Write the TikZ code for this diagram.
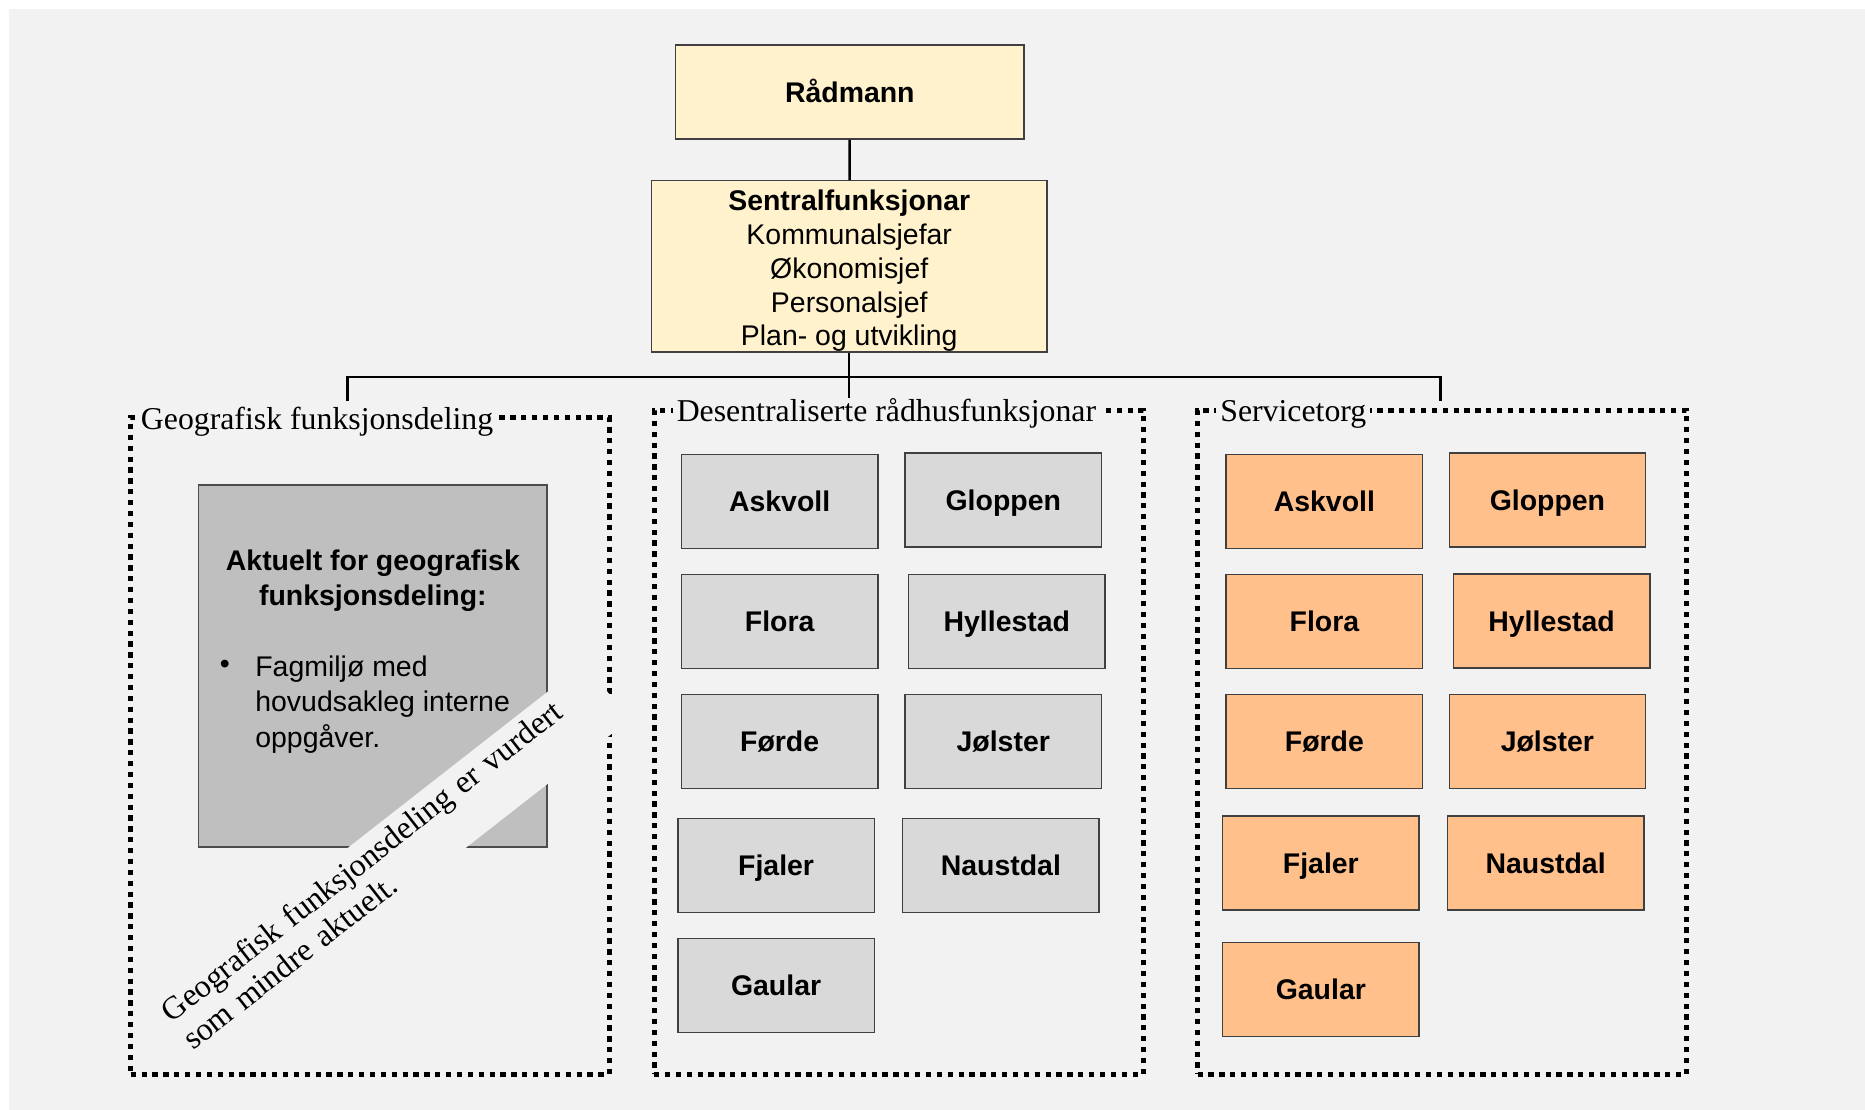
\documentclass[tikz,border=0pt]{standalone}
\usepackage{fontspec}
\setmainfont{Liberation Sans}
\newfontfamily\labelfont{Liberation Serif}
\definecolor{bg}{HTML}{F2F2F2}
\definecolor{bossyellow}{HTML}{FFF2CC}
\definecolor{desgray}{HTML}{D9D9D9}
\definecolor{geogray}{HTML}{BFBFBF}
\definecolor{servorange}{HTML}{FFC08C}
\begin{document}
\begin{tikzpicture}[x=0.01cm,y=-0.01cm,
  link/.style={line width=0.6pt},
  boss/.style={draw=black!75, line width=0.35pt, fill=bossyellow, font=\fontsize{6.8}{8.1}\selectfont},
  town/.style={draw=black!75, line width=0.35pt, minimum width=1.65cm, minimum height=0.79cm, inner sep=0pt, text height=4.9pt, text depth=0pt, font=\bfseries\fontsize{6.8}{8}\selectfont},
  desbox/.style={town, fill=desgray},
  servbox/.style={town, fill=servorange},
  area/.style={draw, line width=1.2pt, dash pattern=on 1.25pt off 1.35pt, minimum width=4.11cm, minimum height=5.58cm},
  arealabel/.style={fill=bg, inner xsep=1pt, inner ysep=0pt, anchor=base west, font=\labelfont\fontsize{7.6}{9}\selectfont},
  band/.style={rotate=38, anchor=east, fill=bg, text width=4.55cm, minimum height=0.61cm, inner xsep=0.05cm, inner ysep=0pt, align=left, font=\labelfont\fontsize{7.7}{8.4}\selectfont}]
\useasboundingbox (0,0) rectangle (1568,933);
\fill[bg] (7.5,7.5) rectangle (1568,933);

\node[boss, font=\bfseries\fontsize{6.8}{8.1}\selectfont, minimum width=2.93cm, minimum height=0.79cm, text height=4.9pt, text depth=0pt] (radmann) at (714.5,77.5) {Rådmann};
\node[boss, minimum width=3.32cm, minimum height=1.44cm, inner sep=0pt, align=center] (sentral) at (714,224)
  {\rule{0pt}{7pt}\textbf{Sentralfunksjonar}\\Kommunalsjefar\\Økonomisjef\\Personalsjef\\Plan- og utvikling};

\coordinate (bar) at (714,317);
\coordinate (geotop) at (292,337);
\coordinate (destop) at (714,336);
\coordinate (servtop) at (1211,337);
\draw[link] (radmann) -- (sentral);
\draw[link] (sentral) -- (destop);
\draw[link] (geotop) |- (bar) -| (servtop);

\node[area, minimum width=4.02cm, minimum height=5.52cm] (geo) at (311,627) {};
\node[area] (des) at (755.5,624) {};
\node[area] (serv) at (1212.5,624) {};
\node[arealabel] (geolabel) at ([xshift=0.065cm,yshift=-0.12cm]geo.north west) {Geografisk funksjonsdeling};
\node[arealabel] (deslabel) at ([xshift=0.17cm,yshift=-0.115cm]des.north west) {Desentraliserte rådhusfunksjonar};
\node[arealabel] (servlabel) at ([xshift=0.17cm,yshift=-0.115cm]serv.north west) {Servicetorg};

\node[draw=black!70, line width=0.35pt, fill=geogray, minimum width=2.93cm, minimum height=3.04cm] (geonote) at (313.5,560) {};
\node[align=center, inner sep=0pt, font=\bfseries\fontsize{6.8}{8.3}\selectfont] (geotitle) at (313.5,488) {Aktuelt for geografisk\\funksjonsdeling:};
\node[inner sep=0pt, font=\fontsize{6.8}{8.4}\selectfont] (geobullet) at (189,561) {•};
\node[anchor=north west, align=left, inner sep=0pt, font=\fontsize{6.8}{8.4}\selectfont] (geolist) at (214,551) {Fagmiljø med\\hovudsakleg interne\\oppgåver.};

\node[desbox] (desaskvoll) at (655.5,421.5) {Askvoll};
\node[desbox] (desgloppen) at (843.5,420.5) {Gloppen};
\node[desbox] (desflora) at (655.5,522.5) {Flora};
\node[desbox] (deshyllestad) at (846.5,522.5) {Hyllestad};
\node[desbox] (desforde) at (655.5,623.5) {Førde};
\node[desbox] (desjolster) at (843.5,623.5) {Jølster};
\node[desbox] (desfjaler) at (652.5,727.5) {Fjaler};
\node[desbox] (desnaustdal) at (841.5,727.5) {Naustdal};
\node[desbox] (desgaular) at (652.5,828.5) {Gaular};

\node[servbox] (servaskvoll) at (1113.5,421.5) {Askvoll};
\node[servbox] (servgloppen) at (1301,420.5) {Gloppen};
\node[servbox] (servflora) at (1113.5,522.5) {Flora};
\node[servbox] (servhyllestad) at (1304.5,522) {Hyllestad};
\node[servbox] (servforde) at (1113.5,623.5) {Førde};
\node[servbox] (servjolster) at (1301,623.5) {Jølster};
\node[servbox] (servfjaler) at (1110.5,725.5) {Fjaler};
\node[servbox] (servnaustdal) at (1299.5,725.5) {Naustdal};
\node[servbox] (servgaular) at (1110.5,832) {Gaular};

\node[band] (geoband) at (511,580.8) {Geografisk funksjonsdeling er vurdert\\som mindre aktuelt.};
\end{tikzpicture}
\end{document}
